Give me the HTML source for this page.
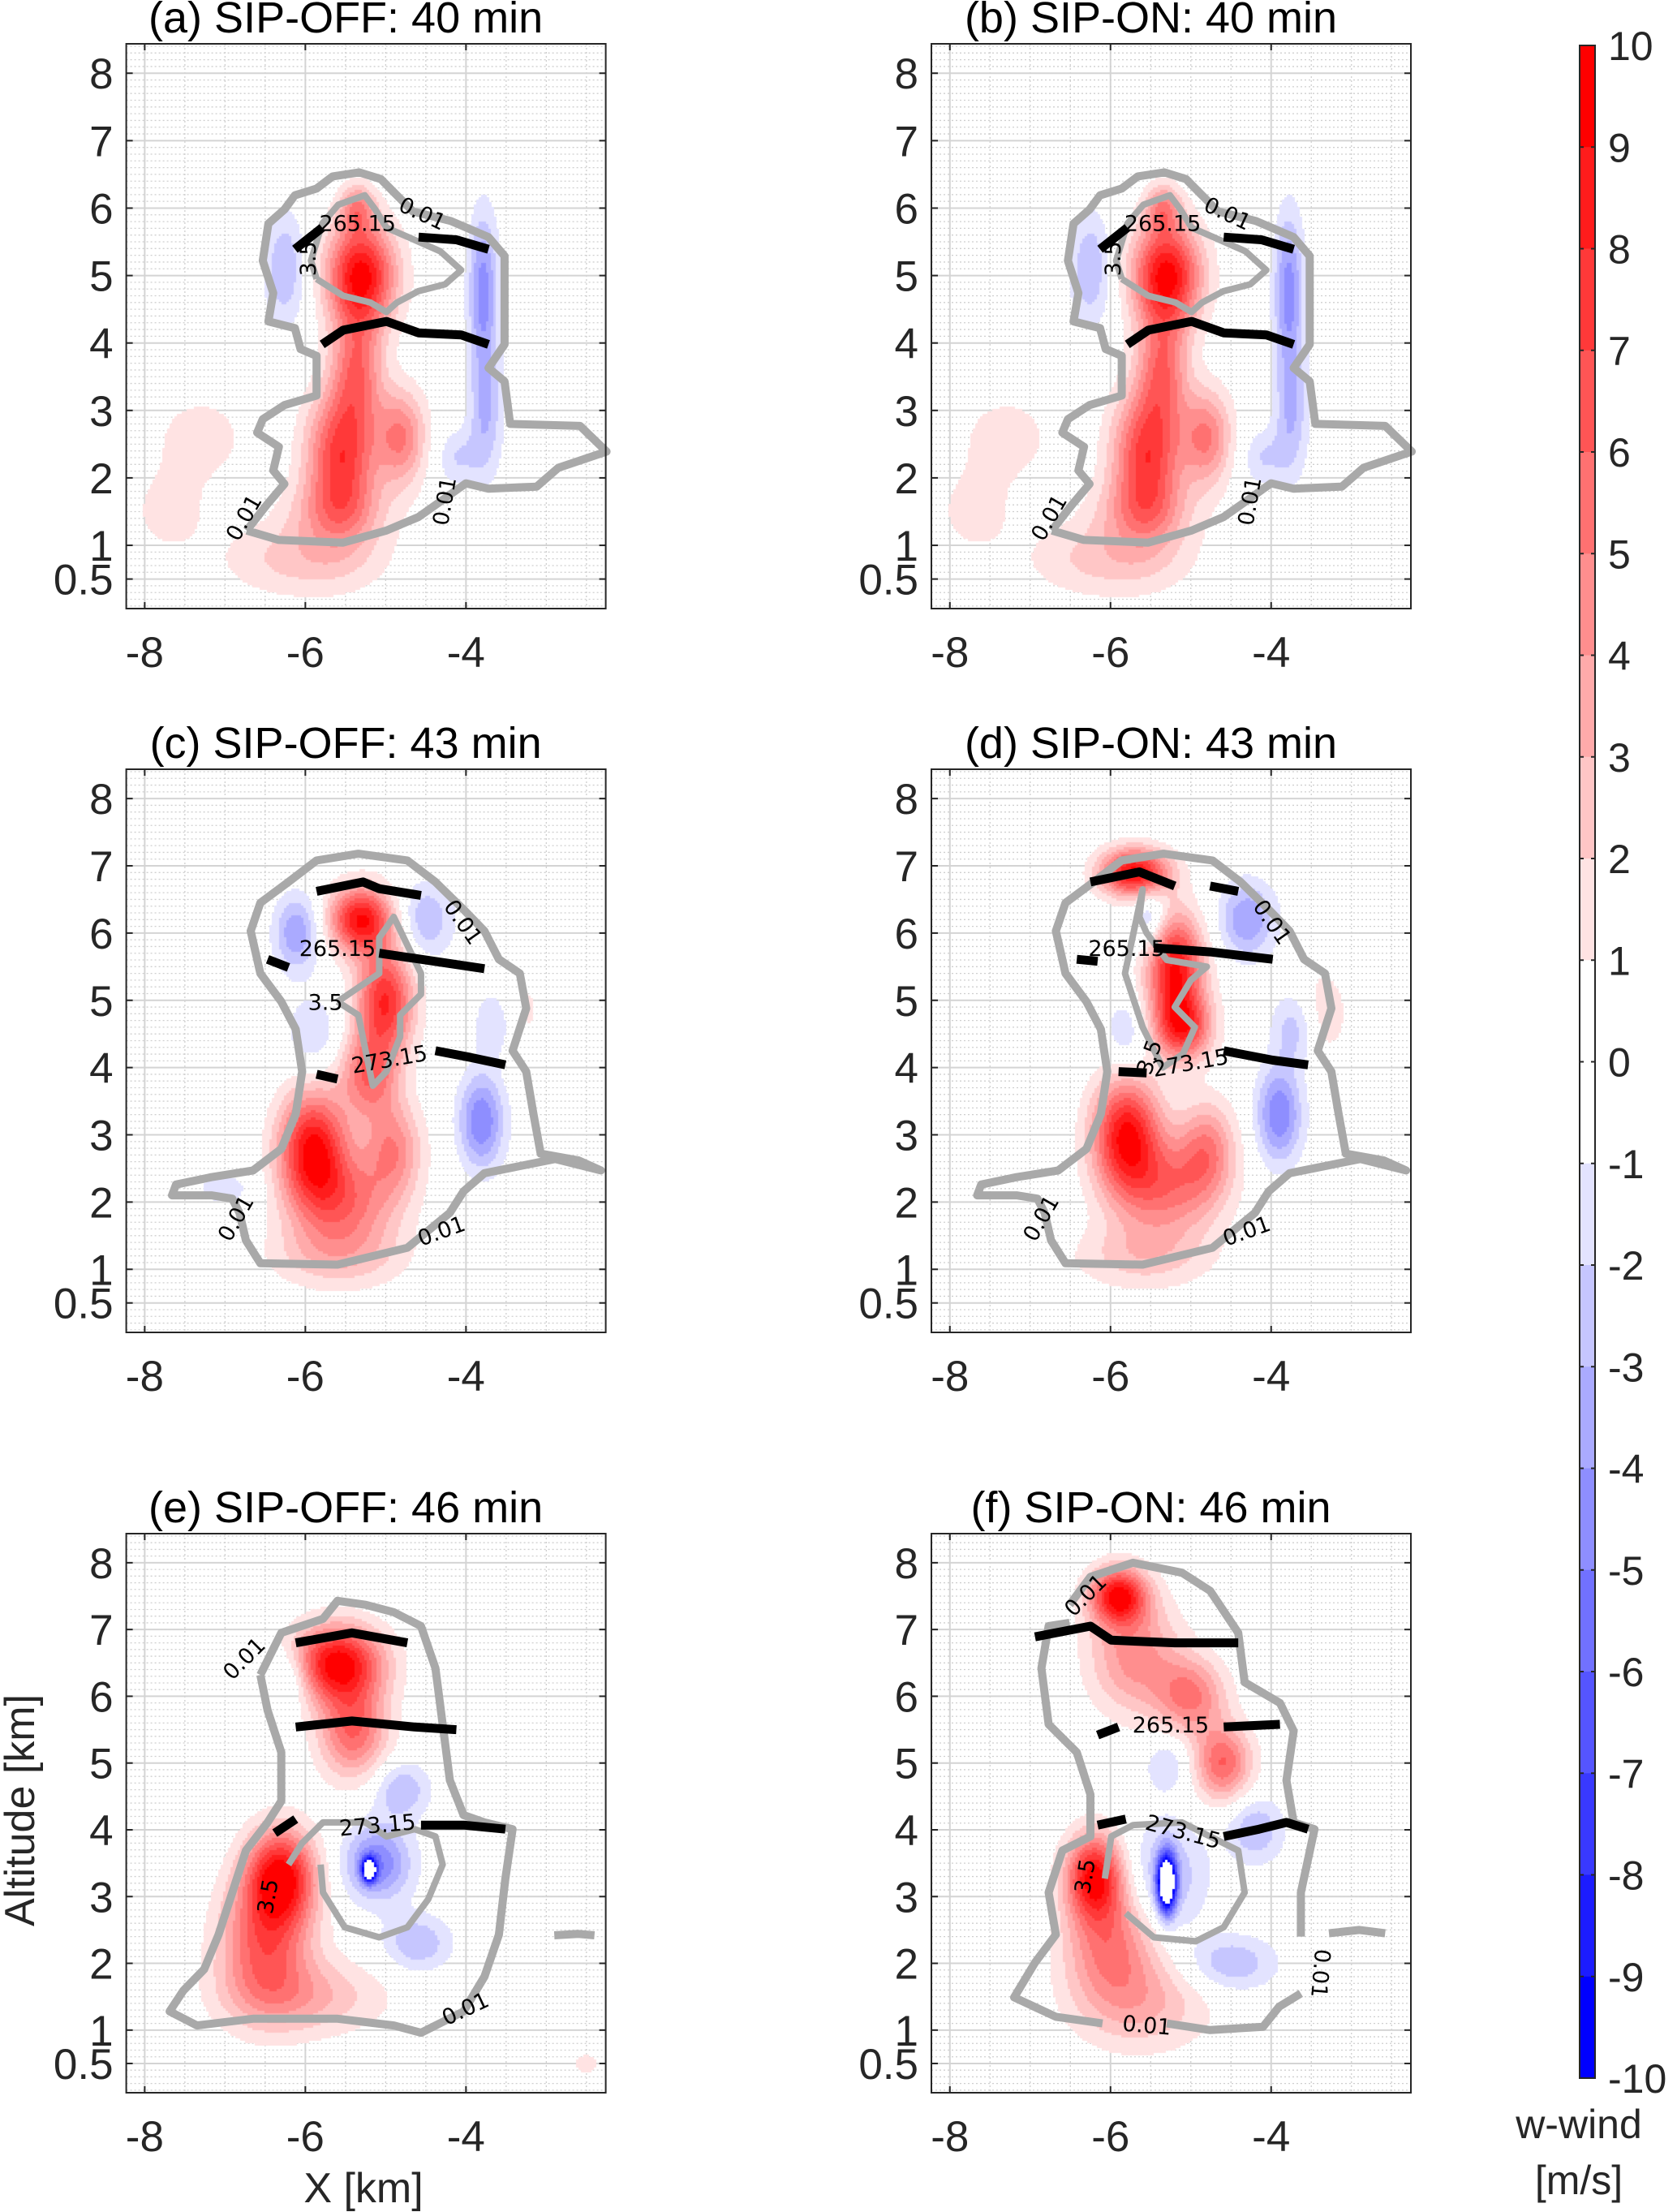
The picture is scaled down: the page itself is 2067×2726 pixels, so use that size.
<!DOCTYPE html>
<html><head><meta charset="utf-8">
<style>
html,body{margin:0;padding:0;background:#fff;}
#wrap{position:relative;width:2067px;height:2726px;overflow:hidden;font-family:"Liberation Sans",sans-serif;}
#bg,#fg,#cv{position:absolute;left:0;top:0;}
</style></head>
<body>
<div id="wrap">
<svg id="bg" width="2067" height="2726"></svg>
<canvas id="cv" width="2067" height="2726"></canvas>
<svg id="fg" width="2067" height="2726"></svg>
</div>
<script>
// ---- data ----
const xTicks = [-8, -6, -4];
const yTicks = [0.5, 1, 2, 3, 4, 5, 6, 7, 8];
const yTickLabels = ['0.5', '1', '2', '3', '4', '5', '6', '7', '8'];
const cbTicks = [10,9,8,7,6,5,4,3,2,1,0,-1,-2,-3,-4,-5,-6,-7,-8,-9,-10];
const titles = ['(a) SIP-OFF: 40 min','(b) SIP-ON: 40 min','(c) SIP-OFF: 43 min','(d) SIP-ON: 43 min','(e) SIP-OFF: 46 min','(f) SIP-ON: 46 min'];

// blobs: [x km, z km, sx, sz, w m/s]
const blobsA = [[-5.3,5.0,0.3,0.55,9.5],[-5.35,6.0,0.15,0.25,4],[-5.35,3.6,0.22,0.6,5],[-5.55,2.3,0.3,0.7,7.5],[-4.8,2.6,0.22,0.5,5],[-6.0,0.8,0.7,0.4,2.5],[-7.3,2.6,0.45,0.5,1.5],[-7.7,1.5,0.35,0.45,1.4],[-5.6,1.5,0.45,0.35,2.5],[-6.25,5.1,0.18,0.6,-3],[-3.78,4.8,0.13,0.8,-4.5],[-3.75,3.0,0.15,0.7,-3],[-4.1,2.3,0.2,0.3,-2]];
const blobsC = [[-5.3,6.2,0.28,0.35,9],[-5.0,5.0,0.25,0.55,8],[-5.2,3.9,0.25,0.45,5.5],[-5.9,2.8,0.3,0.6,9],[-5.5,2.0,0.45,0.5,5],[-5.6,1.2,0.6,0.35,2.5],[-4.9,2.8,0.25,0.5,4.5],[-3.4,4.8,0.25,0.5,2],[-6.1,6.0,0.2,0.4,-4],[-4.5,6.2,0.25,0.4,-3],[-3.8,3.2,0.2,0.5,-5],[-3.6,4.7,0.2,0.4,-3],[-5.9,4.5,0.25,0.4,-2],[-7.0,2.2,0.3,0.2,-1.5]];
const blobsD = [[-5.7,6.9,0.3,0.25,9.5],[-5.2,5.5,0.25,0.55,9],[-5.1,4.6,0.25,0.35,7.5],[-5.8,3.0,0.3,0.6,9],[-5.3,2.2,0.45,0.5,5],[-5.6,1.2,0.6,0.35,2.5],[-4.8,2.8,0.25,0.5,4.5],[-3.4,4.8,0.25,0.5,2],[-5.5,6.2,0.15,0.35,-3],[-4.3,6.2,0.25,0.4,-4],[-3.9,3.3,0.2,0.5,-5],[-3.7,4.6,0.2,0.4,-3],[-5.8,4.5,0.2,0.4,-2]];
const blobsE = [[-5.6,6.5,0.4,0.4,9.5],[-5.4,5.5,0.3,0.5,6],[-6.3,3.3,0.3,0.5,9],[-6.5,2.3,0.4,0.7,6],[-6.0,1.5,0.7,0.4,3],[-5.2,3.4,0.06,0.12,-12],[-5.1,3.5,0.3,0.4,-5],[-4.6,2.3,0.3,0.3,-3],[-6.2,6.3,0.2,0.3,-3],[-4.8,4.6,0.25,0.3,-3],[-2.5,0.5,0.1,0.1,2]];
const blobsF = [[-5.9,7.5,0.25,0.3,9],[-5.7,6.6,0.4,0.6,4.5],[-5.0,6.0,0.3,0.4,5],[-4.6,5.0,0.25,0.4,6],[-6.2,3.3,0.25,0.45,9],[-6.0,2.3,0.4,0.6,5],[-5.6,1.4,0.6,0.5,3],[-5.3,3.2,0.08,0.3,-14],[-5.3,3.3,0.35,0.6,-3],[-4.5,2.0,0.4,0.3,-3],[-4.2,4.0,0.25,0.35,-3],[-5.3,5.0,0.2,0.3,-2]];

const outlineA = [[-6.73,1.22],[-6.33,1.08],[-5.53,1.04],[-4.99,1.22],[-4.59,1.42],[-4.26,1.70],[-4.0,1.92],[-3.72,1.84],[-3.12,1.87],[-2.85,2.15],[-2.25,2.39],[-2.58,2.77],[-3.45,2.80],[-3.52,3.43],[-3.72,3.63],[-3.52,3.98],[-3.52,5.29],[-3.72,5.57],[-4.19,5.81],[-4.66,5.95],[-4.86,6.19],[-5.06,6.43],[-5.33,6.53],[-5.66,6.47],[-5.86,6.29],[-6.13,6.19],[-6.26,5.98],[-6.46,5.77],[-6.53,5.22],[-6.40,4.74],[-6.46,4.32],[-6.13,4.22],[-6.06,3.91],[-5.86,3.81],[-5.86,3.22],[-6.26,3.08],[-6.53,2.87],[-6.60,2.67],[-6.33,2.46],[-6.40,2.11],[-6.26,1.91],[-6.46,1.63],[-6.60,1.42],[-6.73,1.22]];
const innerA = [[-5.86,4.95],[-5.93,5.22],[-5.79,5.77],[-5.59,6.05],[-5.26,6.19],[-5.13,5.98],[-4.99,5.71],[-4.72,5.57],[-4.32,5.36],[-4.06,5.08],[-4.26,4.87],[-4.59,4.77],[-4.86,4.60],[-4.99,4.46],[-5.19,4.60],[-5.53,4.70],[-5.86,4.95]];
const isoA = [[[-6.13,5.39],[-5.79,5.71]],[[-4.59,5.57],[-4.12,5.53],[-3.72,5.39]],[[-5.79,3.98],[-5.53,4.19],[-4.99,4.32],[-4.59,4.15],[-4.06,4.12],[-3.72,3.98]]];
const labelsA = [['265.15',-5.35,5.75,0],['0.01',-4.55,5.9,25],['3.5',-5.95,5.25,-90],['0.01',-6.75,1.4,-60],['0.01',-4.25,1.65,-80]];

const outlineC = [[-6.82,1.84],[-6.74,1.43],[-6.56,1.09],[-5.60,1.07],[-4.73,1.32],[-4.20,1.84],[-4.03,2.16],[-3.77,2.43],[-2.89,2.64],[-2.32,2.47],[-2.6,2.62],[-3.07,2.72],[-3.16,3.31],[-3.25,3.94],[-3.42,4.25],[-3.25,4.88],[-3.33,5.40],[-3.59,5.61],[-3.77,6.03],[-4.03,6.35],[-4.38,6.76],[-4.73,7.08],[-5.34,7.18],[-5.86,7.08],[-6.21,6.76],[-6.56,6.45],[-6.68,6.03],[-6.56,5.40],[-6.30,4.98],[-6.12,4.57],[-6.04,3.94],[-6.12,3.31],[-6.30,2.79],[-6.65,2.47],[-7.17,2.37],[-7.61,2.26],[-7.66,2.10],[-7.17,2.10],[-6.91,2.05],[-6.82,1.84]];
const innerC = [[-5.60,4.98],[-5.34,5.19],[-5.08,5.40],[-5.08,5.93],[-4.90,6.24],[-4.73,5.82],[-4.56,5.40],[-4.56,5.09],[-4.82,4.78],[-4.82,4.46],[-4.99,3.94],[-5.16,3.73],[-5.25,4.25],[-5.34,4.78],[-5.60,4.98]];
const isoC = [[[-5.86,6.62],[-5.28,6.76],[-5.08,6.66],[-4.56,6.56]],[[-6.47,5.61],[-6.21,5.49]],[[-5.08,5.70],[-4.56,5.61],[-3.77,5.47]],[[-5.86,3.90],[-5.60,3.83]],[[-4.38,4.25],[-3.94,4.15],[-3.51,4.04]]];
const labelsC = [['265.15',-5.6,5.75,0],['0.01',-4.05,6.15,55],['3.5',-5.75,4.95,0],['273.15',-4.95,4.1,-10],['0.01',-6.85,1.75,-60],['0.01',-4.3,1.55,-20]];

const outlineD = [[-6.82,1.84],[-6.74,1.43],[-6.56,1.09],[-5.60,1.07],[-4.73,1.32],[-4.20,1.84],[-4.03,2.16],[-3.77,2.43],[-2.89,2.64],[-2.32,2.47],[-2.6,2.62],[-3.07,2.72],[-3.16,3.31],[-3.25,3.94],[-3.42,4.25],[-3.25,4.88],[-3.33,5.40],[-3.59,5.61],[-3.77,6.03],[-4.03,6.35],[-4.38,6.76],[-4.73,7.08],[-5.34,7.18],[-5.86,7.08],[-6.21,6.76],[-6.56,6.45],[-6.68,6.03],[-6.56,5.40],[-6.30,4.98],[-6.12,4.57],[-6.04,3.94],[-6.12,3.31],[-6.30,2.79],[-6.65,2.47],[-7.17,2.37],[-7.61,2.26],[-7.66,2.10],[-7.17,2.10],[-6.91,2.05],[-6.82,1.84]];
const innerD = [[-5.64,6.24],[-5.6,6.65],[-5.82,5.4],[-5.6,4.6],[-5.35,4.0],[-5.1,4.2],[-4.95,4.6],[-5.2,4.9],[-5.0,5.3],[-4.8,5.5],[-5.3,5.6],[-5.55,6.0],[-5.64,6.24]];
const isoD = [[[-6.25,6.76],[-5.64,6.91],[-5.20,6.70]],[[-4.76,6.70],[-4.41,6.62]],[[-6.42,5.61],[-6.16,5.58]],[[-5.46,5.78],[-4.76,5.72],[-3.98,5.61]],[[-5.90,3.94],[-5.55,3.92]],[[-4.59,4.25],[-3.98,4.11],[-3.54,4.04]]];
const labelsD = [['265.15',-5.8,5.75,0],['0.01',-4.0,6.15,55],['3.5',-5.5,4.15,-70],['273.15',-5.0,4.05,-10],['0.01',-6.85,1.75,-60],['0.01',-4.3,1.55,-20]];

const outlineE = [[-6.56,6.32],[-6.30,6.95],[-5.78,7.16],[-5.60,7.43],[-5.25,7.37],[-4.90,7.26],[-4.56,7.05],[-4.38,6.42],[-4.29,5.58],[-4.20,4.74],[-4.03,4.22],[-3.77,4.11],[-3.42,4.01],[-3.51,3.27],[-3.59,2.43],[-3.77,1.80],[-4.03,1.28],[-4.56,0.96],[-4.90,1.07],[-5.60,1.17],[-6.65,1.17],[-7.35,1.07],[-7.69,1.28],[-7.52,1.59],[-7.26,1.91],[-7.08,2.43],[-6.91,3.06],[-6.74,3.69],[-6.47,4.11],[-6.30,4.43],[-6.30,5.16],[-6.47,5.79],[-6.56,6.32]];
const innerE = [[-6.21,3.48],[-6.04,3.80],[-5.78,4.11],[-5.25,4.11],[-4.99,3.90],[-4.64,4.01],[-4.38,3.90],[-4.29,3.48],[-4.47,2.96],[-4.73,2.54],[-5.08,2.39],[-5.51,2.54],[-5.78,3.06],[-5.81,3.48]];
const isoE = [[[-6.12,6.80],[-5.42,6.95],[-4.73,6.80]],[[-6.12,5.54],[-5.42,5.63],[-4.64,5.54],[-4.12,5.50]],[[-6.38,3.95],[-6.12,4.16]],[[-4.56,4.07],[-4.03,4.07],[-3.51,4.01]]];
const labelsE = [['0.01',-6.75,6.55,-45],['273.15',-5.1,4.05,-5],['3.5',-6.45,3.0,-80],['0.01',-4.0,1.3,-25]];

const outlineF = [[-6.51,7.37],[-6.25,7.79],[-5.72,8.0],[-5.11,7.85],[-4.76,7.58],[-4.41,6.95],[-4.33,6.21],[-3.89,5.90],[-3.72,5.48],[-3.81,4.74],[-3.72,4.11],[-3.46,4.01],[-3.63,3.06],[-3.63,2.4]];
const outlineF2 = [[-3.63,1.55],[-3.9,1.35],[-4.1,1.05],[-4.76,1.0],[-5.3,1.1]];
const outlineF3 = [[-6.1,1.1],[-6.68,1.2],[-7.20,1.49],[-6.94,2.01],[-6.68,2.43],[-6.77,3.06],[-6.60,3.69],[-6.25,3.90],[-6.25,4.53],[-6.42,5.16],[-6.77,5.58],[-6.86,6.42],[-6.77,7.05],[-6.51,7.1]];
const innerF = [[-6.07,3.27],[-5.99,3.90],[-5.72,4.07],[-5.11,4.11],[-4.76,3.90],[-4.41,3.69],[-4.33,3.06],[-4.59,2.54],[-4.94,2.33],[-5.46,2.39],[-5.81,2.75]];
const isoF = [[[-6.94,6.89],[-6.25,7.05],[-5.99,6.84],[-5.20,6.80],[-4.41,6.80]],[[-6.16,5.42],[-5.90,5.54]],[[-4.59,5.54],[-3.89,5.58]],[[-6.16,4.07],[-5.81,4.16]],[[-4.59,3.90],[-4.15,4.01],[-3.81,4.11],[-3.54,4.01]]];
const labelsF = [['0.01',-6.3,7.5,-45],['265.15',-5.25,5.55,0],['273.15',-5.1,3.95,15],['3.5',-6.3,3.3,-80],['0.01',-5.55,1.05,5],['0.01',-3.4,1.85,95]];

const panelBlobs = [blobsA, blobsA, blobsC, blobsD, blobsE, blobsF];
const panelOutlines = [[outlineA],[outlineA],[outlineC],[outlineD],[outlineE,[[-2.9,2.42],[-2.6,2.44],[-2.4,2.42]]],[outlineF,outlineF2,outlineF3,[[-3.28,2.45],[-2.9,2.5],[-2.58,2.45]]]];
const panelInner = [innerA, innerA, innerC, innerD, innerE, innerF];
const panelIso = [isoA, isoA, isoC, isoD, isoE, isoF];
const panelLabels = [labelsA, labelsA, labelsC, labelsD, labelsE, labelsF];

// ---- layout ----
const colX = [155.6, 1148];
const PW = 591;
const rowY = [[54,750],[948,1642],[1890,2579]];
const XD = [-8.23, -2.26], ZD = [0.062, 8.436];
const NS = 'http://www.w3.org/2000/svg';
const bg = document.getElementById('bg'), fg = document.getElementById('fg');
function mk(parent, tag, attrs, text){const e=document.createElementNS(NS,tag);for(const k in attrs)e.setAttribute(k,attrs[k]);if(text!==undefined)e.textContent=text;parent.appendChild(e);return e;}
function levelColor(w){
  if (w <= -10) return [255,255,255];
  if (w >= 1){let k=Math.min(9,Math.floor(w));const g=Math.round(255-k*255/9);return [255,g,g];}
  if (w <= -1){let k=Math.min(9,Math.floor(-w));const g=Math.round(255-k*255/9);return [g,g,255];}
  return null;
}
const ctx = document.getElementById('cv').getContext('2d');

for (let p=0;p<6;p++){
  const col=p%2,row=Math.floor(p/2);
  const x0=colX[col],x1=x0+PW,y0=rowY[row][0],y1=rowY[row][1];
  const sx=v=>x0+(v-XD[0])/(XD[1]-XD[0])*PW;
  const sy=v=>y1-(v-ZD[0])/(ZD[1]-ZD[0])*(y1-y0);
  const gb=mk(bg,'g',{});
  
  
  for(let v=-8;v<=-2.3;v+=0.5){const maj=Number.isInteger(v/2);mk(gb,'line',{x1:sx(v),x2:sx(v),y1:y0,y2:y1,stroke:maj?'#d4d4d4':'#cfcfcf','stroke-width':maj?2:1.3,'stroke-dasharray':maj?'':'2 3'});}
  for(let v=0.1;v<8.43;v+=0.1){const maj=yTicks.some(t=>Math.abs(t-v)<0.01);mk(gb,'line',{x1:x0,x2:x1,y1:sy(v),y2:sy(v),stroke:maj?'#d4d4d4':'#cfcfcf','stroke-width':maj?2:1.3,'stroke-dasharray':maj?'':'2 3'});}
  // field
  const bl=panelBlobs[p];const st=3;
  for(let py=y0;py<y1;py+=st){for(let px=x0;px<x1;px+=st){
    const xv=XD[0]+(px+st/2-x0)/PW*(XD[1]-XD[0]);const zv=ZD[0]+(y1-py-st/2)/(y1-y0)*(ZD[1]-ZD[0]);
    let w=0;for(const b of bl){const dx=(xv-b[0])/b[2],dz=(zv-b[1])/b[3];w+=b[4]*Math.exp(-0.5*(dx*dx+dz*dz));}
    const c=levelColor(w);if(c){ctx.fillStyle='rgb('+c.join(',')+')';ctx.fillRect(Math.floor(px),Math.floor(py),st+1,st+1);}
  }}
  const g=mk(fg,'g',{});
  
  
  const pts=a=>a.map(q=>sx(q[0]).toFixed(1)+','+sy(q[1]).toFixed(1)).join(' ');
  for(const o of panelOutlines[p]){const e=mk(g,'polyline',{points:pts(o),fill:'none',stroke:'#a9a9a9','stroke-width':10,'stroke-linejoin':'round'});
    
    }
  const inn=mk(g,'polyline',{points:pts(panelInner[p]),fill:'none',stroke:'#a9a9a9','stroke-width':8,'stroke-linejoin':'round'});
  
  
  for(const s of panelIso[p]){const e=mk(g,'polyline',{points:pts(s),fill:'none',stroke:'#000','stroke-width':11,'stroke-linejoin':'round'});
    
    }
  for(const L of panelLabels[p]){const e=mk(g,'text',{x:sx(L[1]),y:sy(L[2]),'font-size':27,'text-anchor':'middle','dominant-baseline':'middle',transform:'rotate('+L[3]+' '+sx(L[1])+' '+sy(L[2])+')','font-family':'DejaVu Sans, sans-serif'},L[0]);
    
    }
  // axes box
  const bx=mk(g,'rect',{x:x0,y:y0,width:PW,height:y1-y0,fill:'none',stroke:'#262626','stroke-width':2});
  
  
  yTicks.forEach((t,i)=>{mk(g,'line',{x1:x0,x2:x0+8,y1:sy(t),y2:sy(t),stroke:'#262626','stroke-width':2});mk(g,'line',{x1:x1,x2:x1-8,y1:sy(t),y2:sy(t),stroke:'#262626','stroke-width':2});
    const e=mk(g,'text',{x:x0-16,y:sy(t)+19,'font-size':53,'text-anchor':'end',fill:'#262626'},yTickLabels[i]);
    
    });
  xTicks.forEach(t=>{mk(g,'line',{x1:sx(t),x2:sx(t),y1:y1,y2:y1-8,stroke:'#262626','stroke-width':2});mk(g,'line',{x1:sx(t),x2:sx(t),y1:y0,y2:y0+8,stroke:'#262626','stroke-width':2});
    const e=mk(g,'text',{x:sx(t),y:y1+72,'font-size':53,'text-anchor':'middle',fill:'#262626'},String(t));
    
    });
  const tt=mk(g,'text',{x:x0+PW/2-25,y:y0-14,'font-size':54,'text-anchor':'middle',fill:'#000'},titles[p]);
  
  
}
// axis titles
const yl=mk(fg,'text',{x:0,y:0,'font-size':52,'text-anchor':'middle',transform:'translate(42,2231) rotate(-90)',fill:'#262626'},'Altitude [km]');


const xl=mk(fg,'text',{x:448,y:2714,'font-size':52,'text-anchor':'middle',fill:'#262626'},'X [km]');


// colorbar
const cbX=1947,cbW=19,cbT=56,cbB=2561;const cbH=(cbB-cbT)/20;
const cb=mk(fg,'g',{});


for(let i=0;i<20;i++){const lo=10-(i+1);const c=levelColor(lo+0.5)||[255,255,255];
  const r=mk(cb,'rect',{x:cbX,y:cbT+i*cbH,width:cbW,height:cbH+0.5,fill:'rgb('+c.join(',')+')'});
  
  }
mk(cb,'rect',{x:cbX,y:cbT,width:cbW,height:cbB-cbT,fill:'none',stroke:'#262626','stroke-width':2});
cbTicks.forEach((t,i)=>{const y=cbT+i*cbH;mk(cb,'line',{x1:cbX,x2:cbX+5,y1:y,y2:y,stroke:'#262626','stroke-width':2});mk(cb,'line',{x1:cbX+cbW,x2:cbX+cbW-5,y1:y,y2:y,stroke:'#262626','stroke-width':2});
  const e=mk(cb,'text',{x:cbX+cbW+16,y:y+18,'font-size':50,fill:'#262626'},String(t));
  
  });
const ct1=mk(fg,'text',{x:1946,y:2635,'font-size':50,'text-anchor':'middle',fill:'#262626'},'w-wind');


const ct2=mk(fg,'text',{x:1946,y:2704,'font-size':50,'text-anchor':'middle',fill:'#262626'},'[m/s]');


</script>
</body></html>
